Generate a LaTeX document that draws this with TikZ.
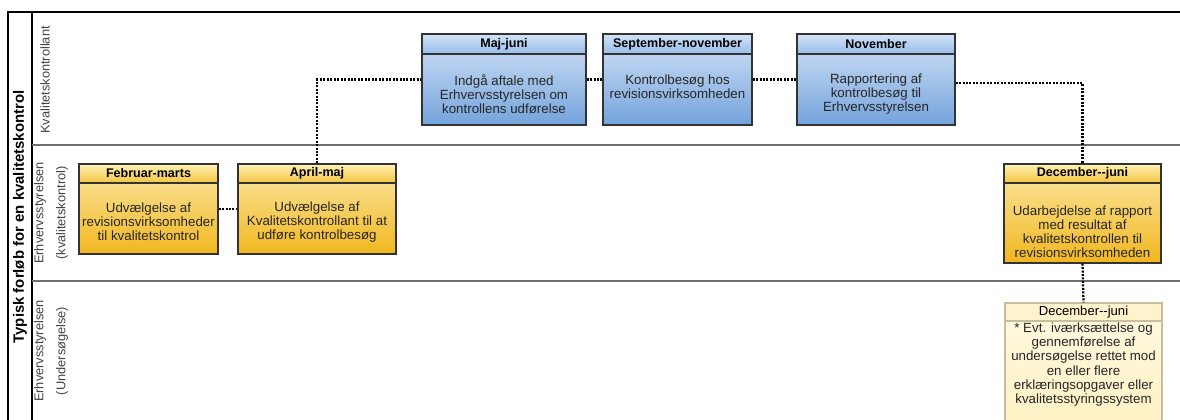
\documentclass[tikz,border=0pt]{standalone}
\usepackage{fontspec}
\setmainfont{Liberation Sans}
\usetikzlibrary{calc}
\definecolor{bluetop}{HTML}{D4E4F7}
\definecolor{bluebot}{HTML}{74A3DC}
\definecolor{bluehtop}{HTML}{D2E3F7}
\definecolor{bluehbot}{HTML}{98BDEA}
\definecolor{yeltop}{HTML}{FCE8A6}
\definecolor{yelbot}{HTML}{F1B71E}
\definecolor{yelhtop}{HTML}{FFF2B4}
\definecolor{yelhbot}{HTML}{F4C440}
\definecolor{paletop}{HTML}{FFF9E2}
\definecolor{palebot}{HTML}{FFF1C4}
\definecolor{palehead}{HTML}{FFF2CC}
\definecolor{paleline}{HTML}{C9BE9C}
\definecolor{lanegray}{HTML}{6E6E6E}
\definecolor{labelgray}{HTML}{444444}
\tikzset{
  px/.style={x=0.75pt,y=-0.75pt},
  boxbase/.style={draw=black!80, line width=0.9pt, inner sep=0pt, rectangle},
  bluebody/.style={boxbase, top color=bluetop, bottom color=bluebot},
  bluehead/.style={boxbase, top color=bluehtop, bottom color=bluehbot, font=\fontsize{9.4}{10}\selectfont\bfseries},
  yelbody/.style={boxbase, top color=yeltop, bottom color=yelbot},
  yelhead/.style={boxbase, top color=yelhtop, bottom color=yelhbot, font=\fontsize{9.4}{10}\selectfont\bfseries},
  palebody/.style={boxbase, draw=paleline, top color=paletop, bottom color=palebot},
  palehead/.style={boxbase, draw=paleline, fill=palehead, font=\fontsize{9.8}{10}\selectfont},
  bodytext/.style={align=center, inner sep=0pt, text=black!85, font=\fontsize{10}{10.6}\selectfont},
  lanelabel/.style={rotate=90, align=center, inner sep=0pt, text=labelgray, font=\fontsize{9.6}{16.5}\selectfont},
  conn/.style={draw=black, line width=1.7pt, dash pattern=on 1.5pt off 1.1pt},
  lane/.style={draw=lanegray, line width=1.4pt},
  frame/.style={draw=black, line width=1.1pt},
}
\begin{document}
\begin{tikzpicture}[px]
\useasboundingbox (0,0) rectangle (1180,419);
\clip (0,0) rectangle (1180,419);
\fill[white] (0,0) rectangle (1180,419);
% frame and lanes
\draw[frame] (1190,12) -- (8,12) -- (8,430);
\draw[frame] (32,12) -- (32,430);
\draw[lane] (32,145) -- (1190,145);
\draw[lane] (32,281) -- (1190,281);
\node[rotate=90, inner sep=0pt, font=\fontsize{11.2}{12}\selectfont\bfseries] (title) at (20,217) {Typisk forløb for en kvalitetskontrol};
\node[lanelabel] (l1) at (45,80) {Kvalitetskontrollant};
\node[lanelabel] (l2) at (51,213) {Erhvervsstyrelsen\\(kvalitetskontrol)};
\node[lanelabel] (l3) at (51,351) {Erhvervsstyrelsen\\(Undersøgelse)};
% Februar-marts
\node[yelbody, minimum width=139*0.75pt, minimum height=90*0.75pt] (fm) at (148.5,209) {};
\node[yelhead, minimum width=139*0.75pt, minimum height=19*0.75pt, anchor=north] (fmh) at (fm.north) {Februar-marts};
\node[bodytext] (fmt) at (148.5,222) {Udvælgelse af\\revisionsvirksomheder\\til kvalitetskontrol};
% April-maj
\node[yelbody, minimum width=158*0.75pt, minimum height=90*0.75pt] (am) at (317,209) {};
\node[yelhead, minimum width=158*0.75pt, minimum height=19*0.75pt, anchor=north] (amh) at (am.north) {April-maj};
\node[bodytext] (amt) at (317,222) {Udvælgelse af\\Kvalitetskontrollant til at\\udføre kontrolbesøg};
% Maj-juni
\node[bluebody, minimum width=164*0.75pt, minimum height=91*0.75pt] (mj) at (504,79.5) {};
\node[bluehead, minimum width=164*0.75pt, minimum height=20*0.75pt, anchor=north] (mjh) at (mj.north) {Maj-juni};
\node[bodytext] (mjt) at (504,94) {Indgå aftale med\\Erhvervsstyrelsen om\\kontrollens udførelse};
% September-november
\node[bluebody, minimum width=149*0.75pt, minimum height=91*0.75pt] (sn) at (677.5,79.5) {};
\node[bluehead, minimum width=149*0.75pt, minimum height=20*0.75pt, anchor=north] (snh) at (sn.north) {September-november};
\node[bodytext] (snt) at (677.5,87) {Kontrolbesøg hos\\revisionsvirksomheden};
% November
\node[bluebody, minimum width=158*0.75pt, minimum height=91*0.75pt] (nov) at (876,79.5) {};
\node[bluehead, minimum width=158*0.75pt, minimum height=20*0.75pt, anchor=north] (novh) at (nov.north) {November};
\node[bodytext] (novt) at (876,94) {Rapportering af\\kontrolbesøg til\\Erhvervsstyrelsen};
% December--juni (yellow)
\node[yelbody, minimum width=157*0.75pt, minimum height=99*0.75pt] (dj) at (1082.5,213.5) {};
\node[yelhead, minimum width=157*0.75pt, minimum height=19*0.75pt, anchor=north] (djh) at (dj.north) {December-{}-juni};
\node[bodytext] (djt) at (1082.5,232) {Udarbejdelse af rapport\\med resultat af\\kvalitetskontrollen til\\revisionsvirksomheden};
% December--juni (pale)
\node[palebody, minimum width=157*0.75pt, minimum height=121*0.75pt] (pj) at (1083.5,363.5) {};
\node[palehead, minimum width=157*0.75pt, minimum height=18*0.75pt, anchor=north] (pjh) at (pj.north) {December-{}-juni};
\node[bodytext] (pjt) at (1083.5,364.5) {* Evt. iværksættelse og\\gennemførelse af\\undersøgelse rettet mod\\en eller flere\\erklæringsopgaver eller\\kvalitetsstyringssystem};
% connectors
\draw[conn] (fm.east) -- (am.west);
\draw[conn] (am.north) |- (mj.west);
\draw[conn] (mj.east) -- (sn.west);
\draw[conn] (sn.east) -- (nov.west);
\draw[conn] ($(nov.east)+(0,3.5)$) -| (dj.north);
\draw[conn] (dj.south) -- (pjh.north);
\end{tikzpicture}
\end{document}
